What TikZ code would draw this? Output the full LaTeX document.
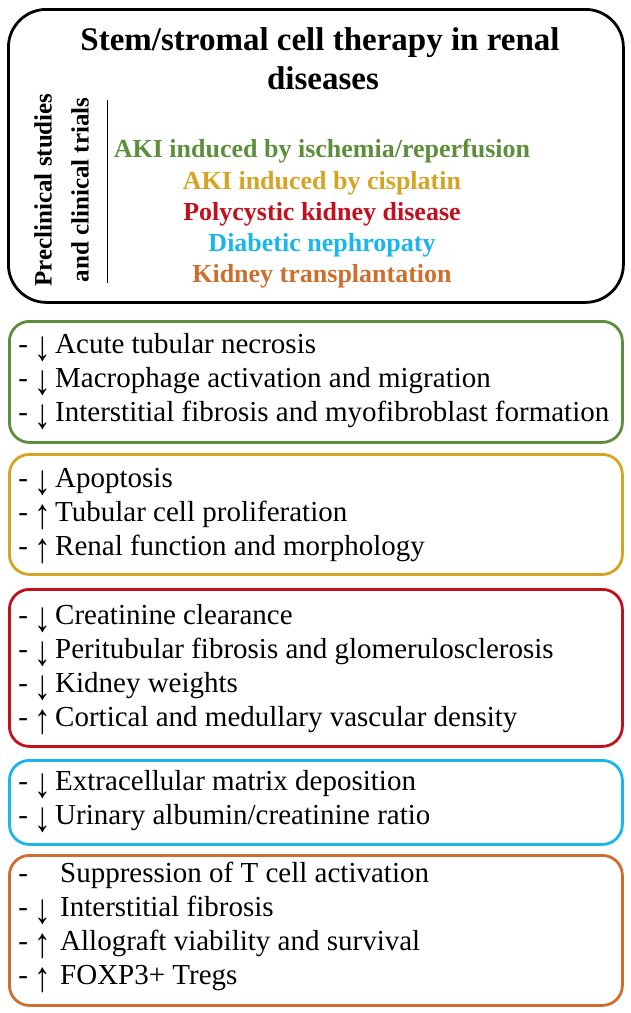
\documentclass[tikz,border=0pt]{standalone}
\usepackage{fontspec}
\setmainfont{Liberation Serif}
\definecolor{cgreen}{RGB}{92,142,60}
\definecolor{cgold}{RGB}{214,164,34}
\definecolor{cred}{RGB}{196,16,30}
\definecolor{cblue}{RGB}{24,182,236}
\definecolor{corange}{RGB}{206,110,46}
\newcommand{\itm}[3][7pt]{\makebox[10pt][c]{-}\hspace{10pt}\makebox[10pt][c]{#2}\hspace{#1}#3}
\newcommand{\arrdn}{\raisebox{-7pt}{\scalebox{1.15}[1.45]{↓}}}
\newcommand{\arrup}{\raisebox{-7pt}{\scalebox{1.15}[1.45]{↑}}}
\begin{document}
\begin{tikzpicture}[x=1pt,y=-1pt,
  box/.style={draw, rounded corners=20pt, line width=2.8pt, minimum width=613pt, anchor=north west, inner sep=0pt},
  item/.style={anchor=base west, inner sep=0pt, font=\fontsize{29}{34}\selectfont},
  dis/.style={anchor=base, inner sep=0pt, font=\fontsize{26}{31}\selectfont\bfseries},
  ttl/.style={anchor=base, inner sep=0pt, font=\fontsize{33}{40}\selectfont\bfseries},
  rot/.style={rotate=90, inner sep=0pt, font=\fontsize{25}{30}\selectfont\bfseries}]
\useasboundingbox (0,0) rectangle (630,1013);
% top box
\node[box, draw=black, rounded corners=38pt, minimum width=615pt, minimum height=293pt] (top) at (7,8) {};
\node[ttl] (t1) at (320,50) {Stem/stromal cell therapy in renal};
\node[ttl] (t2) at (323,89) {diseases};
\node[rot] (r1) at (43,190) {Preclinical studies};
\node[rot] (r2) at (80,190) {and clinical trials};
\coordinate (va) at (107,100);
\coordinate (vb) at (107,283);
\draw[line width=1pt] (va) -- (vb);
\node[dis, text=cgreen] (d1) at (322,157) {AKI induced by ischemia/reperfusion};
\node[dis, text=cgold] (d2) at (322,189) {AKI induced by cisplatin};
\node[dis, text=cred] (d3) at (322,220) {Polycystic kidney disease};
\node[dis, text=cblue] (d4) at (322,251) {Diabetic nephropaty};
\node[dis, text=corange] (d5) at (322,282) {Kidney transplantation};
% green box
\node[box, draw=cgreen, minimum height=121pt] (bg) at (8,320) {};
\node[item] (g1) at (18,353) {\itm{\arrdn}{Acute tubular necrosis}};
\node[item] (g2) at (18,387) {\itm{\arrdn}{Macrophage activation and migration}};
\node[item] (g3) at (18,421) {\itm{\arrdn}{Interstitial fibrosis and myofibroblast formation}};
% yellow box
\node[box, draw=cgold, minimum height=120pt] (by) at (8,453) {};
\node[item] (y1) at (18,487) {\itm{\arrdn}{Apoptosis}};
\node[item] (y2) at (18,521) {\itm{\arrup}{Tubular cell proliferation}};
\node[item] (y3) at (18,555) {\itm{\arrup}{Renal function and morphology}};
% red box
\node[box, draw=cred, minimum height=157pt] (br) at (8,588) {};
\node[item] (k1) at (18,624) {\itm{\arrdn}{Creatinine clearance}};
\node[item] (k2) at (18,658) {\itm{\arrdn}{Peritubular fibrosis and glomerulosclerosis}};
\node[item] (k3) at (18,692) {\itm{\arrdn}{Kidney weights}};
\node[item] (k4) at (18,726) {\itm{\arrup}{Cortical and medullary vascular density}};
% blue box
\node[box, draw=cblue, minimum height=84pt] (bb) at (8,759) {};
\node[item] (b1) at (18,790) {\itm{\arrdn}{Extracellular matrix deposition}};
\node[item] (b2) at (18,824) {\itm{\arrdn}{Urinary albumin/creatinine ratio}};
% orange box
\node[box, draw=corange, minimum height=150pt] (bo) at (8,854) {};
\node[item] (o1) at (18,882) {\itm[12pt]{}{Suppression of T cell activation}};
\node[item] (o2) at (18,916) {\itm[12pt]{\arrdn}{Interstitial fibrosis}};
\node[item] (o3) at (18,950) {\itm[12pt]{\arrup}{Allograft viability and survival}};
\node[item] (o4) at (18,984) {\itm[12pt]{\arrup}{FOXP3+ Tregs}};
\end{tikzpicture}
\end{document}
